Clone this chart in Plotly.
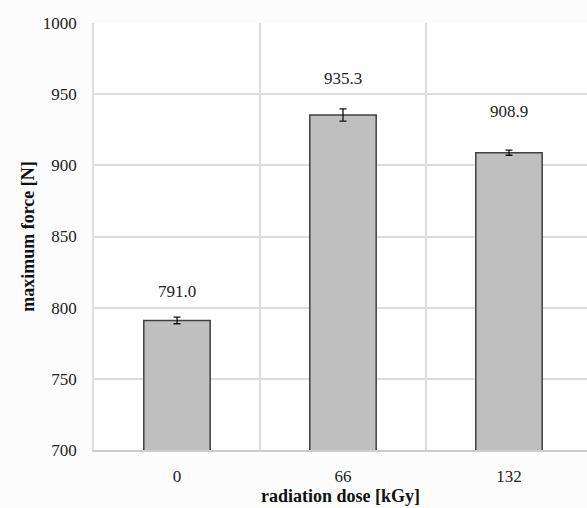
import plotly.graph_objects as go

categories = ["0", "66", "132"]
values = [791.0, 935.3, 908.9]
errors = [2.3, 4.3, 1.8]
value_labels = ["791.0", "935.3", "908.9"]
label_offsets = [29, 37, 41]  # px above bar top (style)

FONT = "Liberation Serif"

fig = go.Figure()
fig.add_trace(go.Bar(
    x=categories, y=values,
    marker=dict(color="#bfbfbf", line=dict(color="#404040", width=1.5)),
    error_y=dict(type="data", array=errors, visible=True, color="#111111", thickness=1.3, width=3.5),
    showlegend=False,
))

for i, (v, t, off) in enumerate(zip(values, value_labels, label_offsets)):
    fig.add_annotation(x=i, y=v, text=t, showarrow=False, yshift=off,
                       font=dict(family=FONT, size=17, color="#222222"))

fig.update_layout(
    width=587, height=508,
    margin=dict(l=94, r=0, t=23, b=58),
    paper_bgcolor="#fcfcfc", plot_bgcolor="#ffffff",
    bargap=0.6,
    font=dict(family=FONT, size=17, color="#222222"),
)
fig.update_xaxes(
    type="category", range=[-0.5, 2.47], tickson="boundaries", automargin=False,
    showgrid=True, gridcolor="#dddddd", gridwidth=1.5,
    showline=True, linecolor="#cccccc", linewidth=1.5,
    ticks="", ticklabelstandoff=10,
    title=dict(text="<b>radiation dose [kGy]</b>", font=dict(family=FONT, size=18, color="#111111"), standoff=4),
)
fig.update_yaxes(
    range=[700, 1000], dtick=50, automargin=False,
    showgrid=True, gridcolor="#dddddd", gridwidth=1.5,
    showline=True, linecolor="#dddddd", linewidth=1.5,
    ticks="", ticklabelstandoff=12, zeroline=False,
    title=dict(text="<b>maximum force [N]</b>", font=dict(family=FONT, size=18, color="#111111"), standoff=4),
)

fig.write_html(
    "out.html",
    config={"displayModeBar": False},
    post_script="document.body.style.margin='0';document.body.style.padding='0';document.body.style.overflow='hidden';",
)
